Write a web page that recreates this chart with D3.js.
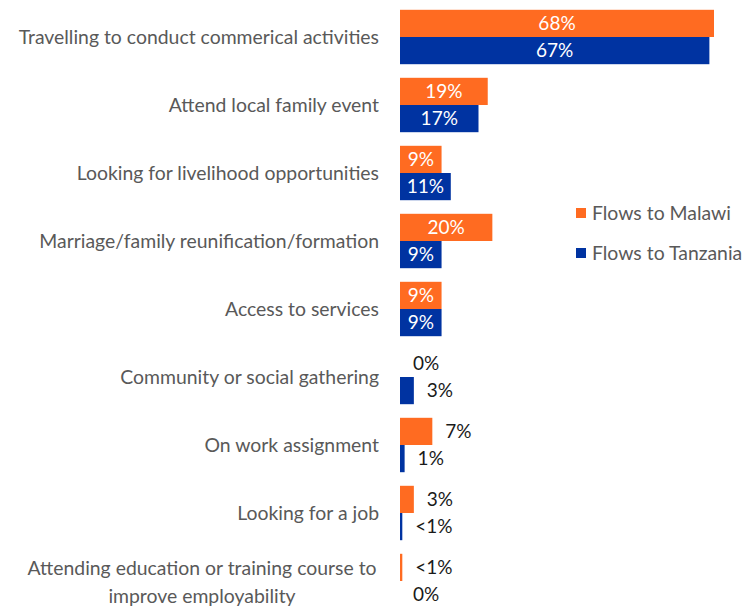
<!DOCTYPE html>
<html>
<head>
<meta charset="utf-8">
<script src="https://cdn.jsdelivr.net/npm/d3@7"></script>
<style>
  body { margin: 0; background: #fff; }
  text { font-family: Lato, "Open Sans", sans-serif; }
</style>
</head>
<body>
<script>
// chart values
var categories = [
    "Travelling to conduct commerical activities",
    "Attend local family event",
    "Looking for livelihood opportunities",
    "Marriage/family reunification/formation",
    "Access to services",
    "Community or social gathering",
    "On work assignment",
    "Looking for a job",
    "Attending education or training course to|improve employability"
];
var malawi   = [68, 19, 9, 20, 9, 0, 7, 3, 0.5];
var tanzania = [67, 17, 11, 9, 9, 3, 1, 0.5, 0];
var seriesNames = ["Flows to Malawi", "Flows to Tanzania"];
var colors = ["#FF6B21", "#0033A1"];

var width = 747, height = 606;

var svg = d3.select("body")
    .append("svg")
    .attr("width", width)
    .attr("height", height);

var x = d3.scaleLinear()
    .domain([0, 68])
    .range([400, 714]);

var y = d3.scaleBand()
    .domain(categories)
    .range([3, 615])
    .paddingInner(0.2)
    .paddingOuter(0.1);

var ySub = d3.scaleBand()
    .domain([0, 1])
    .range([0, y.bandwidth()]);

function fmt(v) {
    if (v > 0 && v < 1) return "<1%";
    return v + "%";
}

// one row of data per category
var rows = categories.map(function(c, i) {
    return { cat: c, vals: [malawi[i], tanzania[i]] };
});

var groups = svg.selectAll(".group")
    .data(rows)
    .enter()
    .append("g")
    .attr("class", "group")
    .attr("transform", function(d) { return "translate(0," + y(d.cat) + ")"; });

// category labels (last one is wrapped and centred)
groups.each(function(d) {
    var g = d3.select(this);
    var lines = d.cat.split("|");
    var cy = y.bandwidth() / 2;
    if (lines.length === 1) {
        g.append("text")
            .attr("x", 379)
            .attr("y", cy)
            .attr("dy", "0.35em")
            .attr("text-anchor", "end")
            .attr("fill", "#595959")
            .style("font-size", "19.4px")
            .text(lines[0]);
    } else {
        lines.forEach(function(l, k) {
            g.append("text")
                .attr("x", 202)
                .attr("y", cy - 13 + k * 28)
                .attr("dy", "0.35em")
                .attr("text-anchor", "middle")
                .attr("fill", "#595959")
                .style("font-size", "19.4px")
                .text(l);
        });
    }
});

var bars = groups.selectAll(".bar")
    .data(function(d) { return d.vals.map(function(v, k) { return { v: v, k: k }; }); })
    .enter();

bars.append("rect")
    .attr("class", "bar")
    .attr("x", x(0))
    .attr("y", function(d) { return ySub(d.k); })
    .attr("width", function(d) { return x(d.v) - x(0); })
    .attr("height", ySub.bandwidth())
    .attr("fill", function(d) { return colors[d.k]; });

// value labels: inside for big bars, outside for small ones
bars.append("text")
    .attr("x", function(d) {
        return d.v >= 9 ? (x(0) + x(d.v)) / 2 : x(d.v) + 13;
    })
    .attr("y", function(d) { return ySub(d.k) + ySub.bandwidth() / 2; })
    .attr("dy", "0.36em")
    .attr("text-anchor", function(d) { return d.v >= 9 ? "middle" : "start"; })
    .attr("fill", function(d) { return d.v >= 9 ? "#fff" : "#1a1a1a"; })
    .style("font-size", "19px")
    .text(function(d) { return fmt(d.v); });

// legend
var legend = svg.selectAll(".legend")
    .data(seriesNames)
    .enter()
    .append("g")
    .attr("class", "legend")
    .attr("transform", function(d, i) { return "translate(576," + (213 + i * 40) + ")"; });

legend.append("rect")
    .attr("x", 0)
    .attr("y", -5)
    .attr("width", 10)
    .attr("height", 10)
    .attr("fill", function(d, i) { return colors[i]; });

legend.append("text")
    .attr("x", 16)
    .attr("y", 0)
    .attr("dy", "0.35em")
    .attr("fill", "#595959")
    .style("font-size", "19.4px")
    .text(function(d) { return d; });
</script>
</body>
</html>
